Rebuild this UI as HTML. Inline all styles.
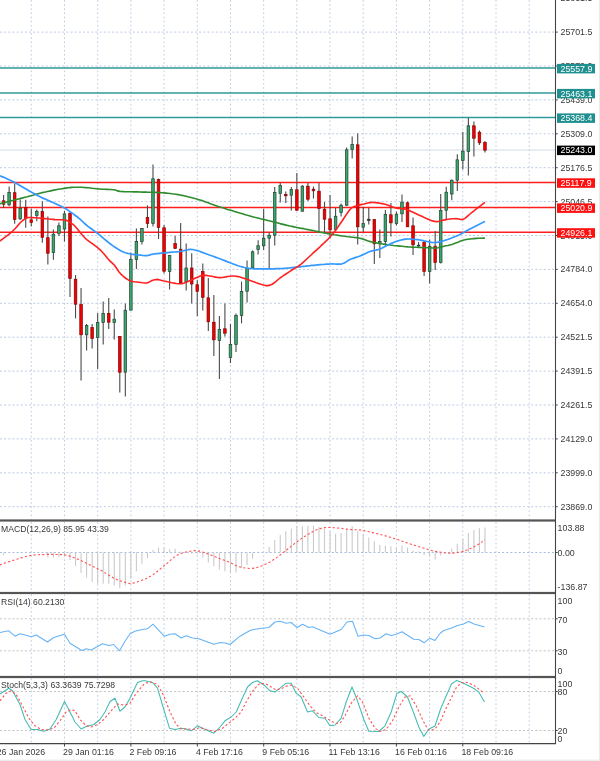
<!DOCTYPE html>
<html><head><meta charset="utf-8"><title>Chart</title>
<style>
html,body{margin:0;padding:0;background:#fff}
body{filter:blur(0.35px);width:600px;height:761px;position:relative;overflow:hidden;font-family:"Liberation Sans",sans-serif;font-size:8.8px;color:#383838;line-height:11px}
div{position:absolute;white-space:nowrap}
.ax{left:560.5px;height:11px}
.ax2{left:557.6px;height:11px}
.bx{left:560.5px;height:11px;line-height:11px;color:#fff}
.lb{left:1px;height:11px;font-size:8.65px}
.dt{top:746.8px;height:11px}
</style></head><body>
<svg width="600" height="761" viewBox="0 0 600 761" style="position:absolute;left:0;top:0">
<line x1="31.3" y1="0.0" x2="31.3" y2="519.5" stroke="#bccae4" stroke-width="1" stroke-dasharray="1.6 2.55"/>
<line x1="64.5" y1="0.0" x2="64.5" y2="519.5" stroke="#bccae4" stroke-width="1" stroke-dasharray="1.6 2.55"/>
<line x1="97.7" y1="0.0" x2="97.7" y2="519.5" stroke="#bccae4" stroke-width="1" stroke-dasharray="1.6 2.55"/>
<line x1="130.9" y1="0.0" x2="130.9" y2="519.5" stroke="#bccae4" stroke-width="1" stroke-dasharray="1.6 2.55"/>
<line x1="164.1" y1="0.0" x2="164.1" y2="519.5" stroke="#bccae4" stroke-width="1" stroke-dasharray="1.6 2.55"/>
<line x1="197.3" y1="0.0" x2="197.3" y2="519.5" stroke="#bccae4" stroke-width="1" stroke-dasharray="1.6 2.55"/>
<line x1="230.5" y1="0.0" x2="230.5" y2="519.5" stroke="#bccae4" stroke-width="1" stroke-dasharray="1.6 2.55"/>
<line x1="263.7" y1="0.0" x2="263.7" y2="519.5" stroke="#bccae4" stroke-width="1" stroke-dasharray="1.6 2.55"/>
<line x1="296.8" y1="0.0" x2="296.8" y2="519.5" stroke="#bccae4" stroke-width="1" stroke-dasharray="1.6 2.55"/>
<line x1="330.0" y1="0.0" x2="330.0" y2="519.5" stroke="#bccae4" stroke-width="1" stroke-dasharray="1.6 2.55"/>
<line x1="363.2" y1="0.0" x2="363.2" y2="519.5" stroke="#bccae4" stroke-width="1" stroke-dasharray="1.6 2.55"/>
<line x1="396.4" y1="0.0" x2="396.4" y2="519.5" stroke="#bccae4" stroke-width="1" stroke-dasharray="1.6 2.55"/>
<line x1="429.6" y1="0.0" x2="429.6" y2="519.5" stroke="#bccae4" stroke-width="1" stroke-dasharray="1.6 2.55"/>
<line x1="462.8" y1="0.0" x2="462.8" y2="519.5" stroke="#bccae4" stroke-width="1" stroke-dasharray="1.6 2.55"/>
<line x1="496.0" y1="0.0" x2="496.0" y2="519.5" stroke="#bccae4" stroke-width="1" stroke-dasharray="1.6 2.55"/>
<line x1="529.2" y1="0.0" x2="529.2" y2="519.5" stroke="#bccae4" stroke-width="1" stroke-dasharray="1.6 2.55"/>
<line x1="31.3" y1="522.0" x2="31.3" y2="592.0" stroke="#bccae4" stroke-width="1" stroke-dasharray="1.6 2.55"/>
<line x1="64.5" y1="522.0" x2="64.5" y2="592.0" stroke="#bccae4" stroke-width="1" stroke-dasharray="1.6 2.55"/>
<line x1="97.7" y1="522.0" x2="97.7" y2="592.0" stroke="#bccae4" stroke-width="1" stroke-dasharray="1.6 2.55"/>
<line x1="130.9" y1="522.0" x2="130.9" y2="592.0" stroke="#bccae4" stroke-width="1" stroke-dasharray="1.6 2.55"/>
<line x1="164.1" y1="522.0" x2="164.1" y2="592.0" stroke="#bccae4" stroke-width="1" stroke-dasharray="1.6 2.55"/>
<line x1="197.3" y1="522.0" x2="197.3" y2="592.0" stroke="#bccae4" stroke-width="1" stroke-dasharray="1.6 2.55"/>
<line x1="230.5" y1="522.0" x2="230.5" y2="592.0" stroke="#bccae4" stroke-width="1" stroke-dasharray="1.6 2.55"/>
<line x1="263.7" y1="522.0" x2="263.7" y2="592.0" stroke="#bccae4" stroke-width="1" stroke-dasharray="1.6 2.55"/>
<line x1="296.8" y1="522.0" x2="296.8" y2="592.0" stroke="#bccae4" stroke-width="1" stroke-dasharray="1.6 2.55"/>
<line x1="330.0" y1="522.0" x2="330.0" y2="592.0" stroke="#bccae4" stroke-width="1" stroke-dasharray="1.6 2.55"/>
<line x1="363.2" y1="522.0" x2="363.2" y2="592.0" stroke="#bccae4" stroke-width="1" stroke-dasharray="1.6 2.55"/>
<line x1="396.4" y1="522.0" x2="396.4" y2="592.0" stroke="#bccae4" stroke-width="1" stroke-dasharray="1.6 2.55"/>
<line x1="429.6" y1="522.0" x2="429.6" y2="592.0" stroke="#bccae4" stroke-width="1" stroke-dasharray="1.6 2.55"/>
<line x1="462.8" y1="522.0" x2="462.8" y2="592.0" stroke="#bccae4" stroke-width="1" stroke-dasharray="1.6 2.55"/>
<line x1="496.0" y1="522.0" x2="496.0" y2="592.0" stroke="#bccae4" stroke-width="1" stroke-dasharray="1.6 2.55"/>
<line x1="529.2" y1="522.0" x2="529.2" y2="592.0" stroke="#bccae4" stroke-width="1" stroke-dasharray="1.6 2.55"/>
<line x1="31.3" y1="594.5" x2="31.3" y2="676.0" stroke="#bccae4" stroke-width="1" stroke-dasharray="1.6 2.55"/>
<line x1="64.5" y1="594.5" x2="64.5" y2="676.0" stroke="#bccae4" stroke-width="1" stroke-dasharray="1.6 2.55"/>
<line x1="97.7" y1="594.5" x2="97.7" y2="676.0" stroke="#bccae4" stroke-width="1" stroke-dasharray="1.6 2.55"/>
<line x1="130.9" y1="594.5" x2="130.9" y2="676.0" stroke="#bccae4" stroke-width="1" stroke-dasharray="1.6 2.55"/>
<line x1="164.1" y1="594.5" x2="164.1" y2="676.0" stroke="#bccae4" stroke-width="1" stroke-dasharray="1.6 2.55"/>
<line x1="197.3" y1="594.5" x2="197.3" y2="676.0" stroke="#bccae4" stroke-width="1" stroke-dasharray="1.6 2.55"/>
<line x1="230.5" y1="594.5" x2="230.5" y2="676.0" stroke="#bccae4" stroke-width="1" stroke-dasharray="1.6 2.55"/>
<line x1="263.7" y1="594.5" x2="263.7" y2="676.0" stroke="#bccae4" stroke-width="1" stroke-dasharray="1.6 2.55"/>
<line x1="296.8" y1="594.5" x2="296.8" y2="676.0" stroke="#bccae4" stroke-width="1" stroke-dasharray="1.6 2.55"/>
<line x1="330.0" y1="594.5" x2="330.0" y2="676.0" stroke="#bccae4" stroke-width="1" stroke-dasharray="1.6 2.55"/>
<line x1="363.2" y1="594.5" x2="363.2" y2="676.0" stroke="#bccae4" stroke-width="1" stroke-dasharray="1.6 2.55"/>
<line x1="396.4" y1="594.5" x2="396.4" y2="676.0" stroke="#bccae4" stroke-width="1" stroke-dasharray="1.6 2.55"/>
<line x1="429.6" y1="594.5" x2="429.6" y2="676.0" stroke="#bccae4" stroke-width="1" stroke-dasharray="1.6 2.55"/>
<line x1="462.8" y1="594.5" x2="462.8" y2="676.0" stroke="#bccae4" stroke-width="1" stroke-dasharray="1.6 2.55"/>
<line x1="496.0" y1="594.5" x2="496.0" y2="676.0" stroke="#bccae4" stroke-width="1" stroke-dasharray="1.6 2.55"/>
<line x1="529.2" y1="594.5" x2="529.2" y2="676.0" stroke="#bccae4" stroke-width="1" stroke-dasharray="1.6 2.55"/>
<line x1="31.3" y1="678.5" x2="31.3" y2="743.5" stroke="#bccae4" stroke-width="1" stroke-dasharray="1.6 2.55"/>
<line x1="64.5" y1="678.5" x2="64.5" y2="743.5" stroke="#bccae4" stroke-width="1" stroke-dasharray="1.6 2.55"/>
<line x1="97.7" y1="678.5" x2="97.7" y2="743.5" stroke="#bccae4" stroke-width="1" stroke-dasharray="1.6 2.55"/>
<line x1="130.9" y1="678.5" x2="130.9" y2="743.5" stroke="#bccae4" stroke-width="1" stroke-dasharray="1.6 2.55"/>
<line x1="164.1" y1="678.5" x2="164.1" y2="743.5" stroke="#bccae4" stroke-width="1" stroke-dasharray="1.6 2.55"/>
<line x1="197.3" y1="678.5" x2="197.3" y2="743.5" stroke="#bccae4" stroke-width="1" stroke-dasharray="1.6 2.55"/>
<line x1="230.5" y1="678.5" x2="230.5" y2="743.5" stroke="#bccae4" stroke-width="1" stroke-dasharray="1.6 2.55"/>
<line x1="263.7" y1="678.5" x2="263.7" y2="743.5" stroke="#bccae4" stroke-width="1" stroke-dasharray="1.6 2.55"/>
<line x1="296.8" y1="678.5" x2="296.8" y2="743.5" stroke="#bccae4" stroke-width="1" stroke-dasharray="1.6 2.55"/>
<line x1="330.0" y1="678.5" x2="330.0" y2="743.5" stroke="#bccae4" stroke-width="1" stroke-dasharray="1.6 2.55"/>
<line x1="363.2" y1="678.5" x2="363.2" y2="743.5" stroke="#bccae4" stroke-width="1" stroke-dasharray="1.6 2.55"/>
<line x1="396.4" y1="678.5" x2="396.4" y2="743.5" stroke="#bccae4" stroke-width="1" stroke-dasharray="1.6 2.55"/>
<line x1="429.6" y1="678.5" x2="429.6" y2="743.5" stroke="#bccae4" stroke-width="1" stroke-dasharray="1.6 2.55"/>
<line x1="462.8" y1="678.5" x2="462.8" y2="743.5" stroke="#bccae4" stroke-width="1" stroke-dasharray="1.6 2.55"/>
<line x1="496.0" y1="678.5" x2="496.0" y2="743.5" stroke="#bccae4" stroke-width="1" stroke-dasharray="1.6 2.55"/>
<line x1="529.2" y1="678.5" x2="529.2" y2="743.5" stroke="#bccae4" stroke-width="1" stroke-dasharray="1.6 2.55"/>
<line x1="0" y1="-1.8" x2="555.5" y2="-1.8" stroke="#bccae4" stroke-width="1" stroke-dasharray="2 2.15"/>
<line x1="0" y1="32.1" x2="555.5" y2="32.1" stroke="#bccae4" stroke-width="1" stroke-dasharray="2 2.15"/>
<line x1="0" y1="66.0" x2="555.5" y2="66.0" stroke="#bccae4" stroke-width="1" stroke-dasharray="2 2.15"/>
<line x1="0" y1="99.9" x2="555.5" y2="99.9" stroke="#bccae4" stroke-width="1" stroke-dasharray="2 2.15"/>
<line x1="0" y1="133.8" x2="555.5" y2="133.8" stroke="#bccae4" stroke-width="1" stroke-dasharray="2 2.15"/>
<line x1="0" y1="167.7" x2="555.5" y2="167.7" stroke="#bccae4" stroke-width="1" stroke-dasharray="2 2.15"/>
<line x1="0" y1="201.6" x2="555.5" y2="201.6" stroke="#bccae4" stroke-width="1" stroke-dasharray="2 2.15"/>
<line x1="0" y1="235.5" x2="555.5" y2="235.5" stroke="#bccae4" stroke-width="1" stroke-dasharray="2 2.15"/>
<line x1="0" y1="269.4" x2="555.5" y2="269.4" stroke="#bccae4" stroke-width="1" stroke-dasharray="2 2.15"/>
<line x1="0" y1="303.3" x2="555.5" y2="303.3" stroke="#bccae4" stroke-width="1" stroke-dasharray="2 2.15"/>
<line x1="0" y1="337.2" x2="555.5" y2="337.2" stroke="#bccae4" stroke-width="1" stroke-dasharray="2 2.15"/>
<line x1="0" y1="371.1" x2="555.5" y2="371.1" stroke="#bccae4" stroke-width="1" stroke-dasharray="2 2.15"/>
<line x1="0" y1="405.0" x2="555.5" y2="405.0" stroke="#bccae4" stroke-width="1" stroke-dasharray="2 2.15"/>
<line x1="0" y1="438.9" x2="555.5" y2="438.9" stroke="#bccae4" stroke-width="1" stroke-dasharray="2 2.15"/>
<line x1="0" y1="472.8" x2="555.5" y2="472.8" stroke="#bccae4" stroke-width="1" stroke-dasharray="2 2.15"/>
<line x1="0" y1="506.7" x2="555.5" y2="506.7" stroke="#bccae4" stroke-width="1" stroke-dasharray="2 2.15"/>
<line x1="0" y1="150" x2="555.5" y2="150" stroke="#d2dae8" stroke-width="1.1"/>
<line x1="0" y1="68.0" x2="555.5" y2="68.0" stroke="#2f9a9a" stroke-width="1.6"/>
<line x1="0" y1="93.0" x2="555.5" y2="93.0" stroke="#2f9a9a" stroke-width="1.6"/>
<line x1="0" y1="117.5" x2="555.5" y2="117.5" stroke="#2f9a9a" stroke-width="1.6"/>
<line x1="0" y1="182.4" x2="555.5" y2="182.4" stroke="#ff1f1f" stroke-width="1.5"/>
<line x1="0" y1="207.5" x2="555.5" y2="207.5" stroke="#ff1f1f" stroke-width="1.5"/>
<line x1="0" y1="232.3" x2="555.5" y2="232.3" stroke="#ff1f1f" stroke-width="1.5"/>
<line x1="3.60" y1="195.0" x2="3.60" y2="208.0" stroke="#4a4a4a" stroke-width="1.1"/>
<rect x="2.30" y="200.8" width="2.6" height="3.4" fill="#f20000" stroke="#860404" stroke-width="0.7"/>
<line x1="9.13" y1="186.5" x2="9.13" y2="206.2" stroke="#4a4a4a" stroke-width="1.1"/>
<rect x="7.83" y="192.5" width="2.6" height="12.3" fill="#3aa56d" stroke="#1f4431" stroke-width="0.7"/>
<line x1="14.67" y1="183.5" x2="14.67" y2="223.7" stroke="#4a4a4a" stroke-width="1.1"/>
<rect x="13.37" y="192.7" width="2.6" height="26.7" fill="#f20000" stroke="#860404" stroke-width="0.7"/>
<line x1="20.20" y1="199.4" x2="20.20" y2="220.0" stroke="#4a4a4a" stroke-width="1.1"/>
<rect x="18.90" y="208.2" width="2.6" height="10.6" fill="#3aa56d" stroke="#1f4431" stroke-width="0.7"/>
<line x1="25.73" y1="199.8" x2="25.73" y2="227.8" stroke="#4a4a4a" stroke-width="1.1"/>
<rect x="24.43" y="207.7" width="2.6" height="10.9" fill="#f20000" stroke="#860404" stroke-width="0.7"/>
<line x1="31.27" y1="208.8" x2="31.27" y2="226.5" stroke="#4a4a4a" stroke-width="1.1"/>
<rect x="29.97" y="219.8" width="2.6" height="2.8" fill="#f20000" stroke="#860404" stroke-width="0.7"/>
<line x1="36.80" y1="209.4" x2="36.80" y2="221.2" stroke="#4a4a4a" stroke-width="1.1"/>
<rect x="35.50" y="211.4" width="2.6" height="4.0" fill="#3aa56d" stroke="#1f4431" stroke-width="0.7"/>
<line x1="42.33" y1="201.3" x2="42.33" y2="242.8" stroke="#4a4a4a" stroke-width="1.1"/>
<rect x="41.03" y="211.5" width="2.6" height="25.8" fill="#f20000" stroke="#860404" stroke-width="0.7"/>
<line x1="47.86" y1="216.5" x2="47.86" y2="264.6" stroke="#4a4a4a" stroke-width="1.1"/>
<rect x="46.56" y="237.7" width="2.6" height="15.5" fill="#f20000" stroke="#860404" stroke-width="0.7"/>
<line x1="53.40" y1="229.4" x2="53.40" y2="259.7" stroke="#4a4a4a" stroke-width="1.1"/>
<rect x="52.10" y="234.2" width="2.6" height="18.4" fill="#3aa56d" stroke="#1f4431" stroke-width="0.7"/>
<line x1="58.93" y1="222.5" x2="58.93" y2="236.0" stroke="#4a4a4a" stroke-width="1.1"/>
<rect x="57.63" y="225.8" width="2.6" height="7.5" fill="#3aa56d" stroke="#1f4431" stroke-width="0.7"/>
<line x1="64.46" y1="210.8" x2="64.46" y2="241.5" stroke="#4a4a4a" stroke-width="1.1"/>
<rect x="63.16" y="213.9" width="2.6" height="15.1" fill="#3aa56d" stroke="#1f4431" stroke-width="0.7"/>
<line x1="70.00" y1="212.4" x2="70.00" y2="297.0" stroke="#4a4a4a" stroke-width="1.1"/>
<rect x="68.70" y="213.2" width="2.6" height="65.2" fill="#f20000" stroke="#860404" stroke-width="0.7"/>
<line x1="75.53" y1="275.0" x2="75.53" y2="318.4" stroke="#4a4a4a" stroke-width="1.1"/>
<rect x="74.23" y="279.2" width="2.6" height="25.0" fill="#f20000" stroke="#860404" stroke-width="0.7"/>
<line x1="81.06" y1="288.0" x2="81.06" y2="380.6" stroke="#4a4a4a" stroke-width="1.1"/>
<rect x="79.76" y="304.6" width="2.6" height="30.2" fill="#f20000" stroke="#860404" stroke-width="0.7"/>
<line x1="86.59" y1="324.0" x2="86.59" y2="350.4" stroke="#4a4a4a" stroke-width="1.1"/>
<rect x="85.30" y="325.6" width="2.6" height="9.2" fill="#3aa56d" stroke="#1f4431" stroke-width="0.7"/>
<line x1="92.13" y1="324.0" x2="92.13" y2="348.4" stroke="#4a4a4a" stroke-width="1.1"/>
<rect x="90.83" y="327.6" width="2.6" height="10.8" fill="#f20000" stroke="#860404" stroke-width="0.7"/>
<line x1="97.66" y1="313.0" x2="97.66" y2="369.0" stroke="#4a4a4a" stroke-width="1.1"/>
<rect x="96.36" y="322.6" width="2.6" height="14.8" fill="#3aa56d" stroke="#1f4431" stroke-width="0.7"/>
<line x1="103.19" y1="301.4" x2="103.19" y2="344.4" stroke="#4a4a4a" stroke-width="1.1"/>
<rect x="101.89" y="313.6" width="2.6" height="8.8" fill="#3aa56d" stroke="#1f4431" stroke-width="0.7"/>
<line x1="108.73" y1="298.0" x2="108.73" y2="329.0" stroke="#4a4a4a" stroke-width="1.1"/>
<rect x="107.43" y="313.6" width="2.6" height="8.6" fill="#f20000" stroke="#860404" stroke-width="0.7"/>
<line x1="114.26" y1="309.6" x2="114.26" y2="339.4" stroke="#4a4a4a" stroke-width="1.1"/>
<rect x="112.96" y="319.2" width="2.6" height="3.2" fill="#3aa56d" stroke="#1f4431" stroke-width="0.7"/>
<line x1="119.79" y1="336.0" x2="119.79" y2="392.6" stroke="#4a4a4a" stroke-width="1.1"/>
<rect x="118.49" y="336.6" width="2.6" height="35.6" fill="#f20000" stroke="#860404" stroke-width="0.7"/>
<line x1="125.33" y1="303.6" x2="125.33" y2="396.6" stroke="#4a4a4a" stroke-width="1.1"/>
<rect x="124.03" y="310.2" width="2.6" height="62.0" fill="#3aa56d" stroke="#1f4431" stroke-width="0.7"/>
<line x1="130.86" y1="252.5" x2="130.86" y2="310.3" stroke="#4a4a4a" stroke-width="1.1"/>
<rect x="129.56" y="259.4" width="2.6" height="50.7" fill="#3aa56d" stroke="#1f4431" stroke-width="0.7"/>
<line x1="136.39" y1="228.4" x2="136.39" y2="269.0" stroke="#4a4a4a" stroke-width="1.1"/>
<rect x="135.09" y="241.6" width="2.6" height="17.8" fill="#3aa56d" stroke="#1f4431" stroke-width="0.7"/>
<line x1="141.93" y1="228.0" x2="141.93" y2="244.4" stroke="#4a4a4a" stroke-width="1.1"/>
<rect x="140.62" y="228.6" width="2.6" height="12.8" fill="#3aa56d" stroke="#1f4431" stroke-width="0.7"/>
<line x1="147.46" y1="205.4" x2="147.46" y2="228.0" stroke="#4a4a4a" stroke-width="1.1"/>
<rect x="146.16" y="217.6" width="2.6" height="5.8" fill="#f20000" stroke="#860404" stroke-width="0.7"/>
<line x1="152.99" y1="164.4" x2="152.99" y2="226.4" stroke="#4a4a4a" stroke-width="1.1"/>
<rect x="151.69" y="178.8" width="2.6" height="44.6" fill="#3aa56d" stroke="#1f4431" stroke-width="0.7"/>
<line x1="158.52" y1="178.6" x2="158.52" y2="239.0" stroke="#4a4a4a" stroke-width="1.1"/>
<rect x="157.22" y="179.6" width="2.6" height="47.8" fill="#f20000" stroke="#860404" stroke-width="0.7"/>
<line x1="164.06" y1="225.0" x2="164.06" y2="273.6" stroke="#4a4a4a" stroke-width="1.1"/>
<rect x="162.76" y="227.8" width="2.6" height="43.4" fill="#f20000" stroke="#860404" stroke-width="0.7"/>
<line x1="169.59" y1="255.0" x2="169.59" y2="289.4" stroke="#4a4a4a" stroke-width="1.1"/>
<rect x="168.29" y="255.6" width="2.6" height="15.8" fill="#3aa56d" stroke="#1f4431" stroke-width="0.7"/>
<line x1="175.12" y1="236.0" x2="175.12" y2="249.0" stroke="#4a4a4a" stroke-width="1.1"/>
<rect x="173.82" y="243.6" width="2.6" height="4.8" fill="#f20000" stroke="#860404" stroke-width="0.7"/>
<line x1="180.66" y1="223.0" x2="180.66" y2="283.6" stroke="#4a4a4a" stroke-width="1.1"/>
<rect x="179.36" y="249.2" width="2.6" height="33.6" fill="#f20000" stroke="#860404" stroke-width="0.7"/>
<line x1="186.19" y1="243.4" x2="186.19" y2="290.4" stroke="#4a4a4a" stroke-width="1.1"/>
<rect x="184.89" y="268.0" width="2.6" height="13.8" fill="#3aa56d" stroke="#1f4431" stroke-width="0.7"/>
<line x1="191.72" y1="253.2" x2="191.72" y2="303.6" stroke="#4a4a4a" stroke-width="1.1"/>
<rect x="190.42" y="268.0" width="2.6" height="16.0" fill="#f20000" stroke="#860404" stroke-width="0.7"/>
<line x1="197.25" y1="280.0" x2="197.25" y2="316.0" stroke="#4a4a4a" stroke-width="1.1"/>
<rect x="195.95" y="284.7" width="2.6" height="6.6" fill="#f20000" stroke="#860404" stroke-width="0.7"/>
<line x1="202.79" y1="263.4" x2="202.79" y2="310.4" stroke="#4a4a4a" stroke-width="1.1"/>
<rect x="201.49" y="271.6" width="2.6" height="25.7" fill="#f20000" stroke="#860404" stroke-width="0.7"/>
<line x1="208.32" y1="278.0" x2="208.32" y2="331.0" stroke="#4a4a4a" stroke-width="1.1"/>
<rect x="207.02" y="297.8" width="2.6" height="24.0" fill="#f20000" stroke="#860404" stroke-width="0.7"/>
<line x1="213.85" y1="295.0" x2="213.85" y2="356.0" stroke="#4a4a4a" stroke-width="1.1"/>
<rect x="212.55" y="322.2" width="2.6" height="17.6" fill="#f20000" stroke="#860404" stroke-width="0.7"/>
<line x1="219.39" y1="316.0" x2="219.39" y2="379.0" stroke="#4a4a4a" stroke-width="1.1"/>
<rect x="218.09" y="329.6" width="2.6" height="10.8" fill="#3aa56d" stroke="#1f4431" stroke-width="0.7"/>
<line x1="224.92" y1="303.6" x2="224.92" y2="336.4" stroke="#4a4a4a" stroke-width="1.1"/>
<rect x="223.62" y="328.8" width="2.6" height="4.4" fill="#f20000" stroke="#860404" stroke-width="0.7"/>
<line x1="230.45" y1="324.0" x2="230.45" y2="363.0" stroke="#4a4a4a" stroke-width="1.1"/>
<rect x="229.15" y="344.6" width="2.6" height="12.8" fill="#3aa56d" stroke="#1f4431" stroke-width="0.7"/>
<line x1="235.99" y1="313.6" x2="235.99" y2="352.0" stroke="#4a4a4a" stroke-width="1.1"/>
<rect x="234.69" y="315.6" width="2.6" height="28.8" fill="#3aa56d" stroke="#1f4431" stroke-width="0.7"/>
<line x1="241.52" y1="281.6" x2="241.52" y2="323.4" stroke="#4a4a4a" stroke-width="1.1"/>
<rect x="240.22" y="291.6" width="2.6" height="23.8" fill="#3aa56d" stroke="#1f4431" stroke-width="0.7"/>
<line x1="247.05" y1="260.6" x2="247.05" y2="302.6" stroke="#4a4a4a" stroke-width="1.1"/>
<rect x="245.75" y="268.2" width="2.6" height="23.0" fill="#3aa56d" stroke="#1f4431" stroke-width="0.7"/>
<line x1="252.59" y1="250.6" x2="252.59" y2="268.0" stroke="#4a4a4a" stroke-width="1.1"/>
<rect x="251.28" y="251.8" width="2.6" height="16.0" fill="#3aa56d" stroke="#1f4431" stroke-width="0.7"/>
<line x1="258.12" y1="240.3" x2="258.12" y2="254.4" stroke="#4a4a4a" stroke-width="1.1"/>
<rect x="256.82" y="245.7" width="2.6" height="3.7" fill="#3aa56d" stroke="#1f4431" stroke-width="0.7"/>
<line x1="263.65" y1="209.0" x2="263.65" y2="250.0" stroke="#4a4a4a" stroke-width="1.1"/>
<rect x="262.35" y="238.2" width="2.6" height="7.6" fill="#3aa56d" stroke="#1f4431" stroke-width="0.7"/>
<line x1="269.18" y1="232.4" x2="269.18" y2="269.0" stroke="#4a4a4a" stroke-width="1.1"/>
<rect x="267.88" y="235.2" width="2.6" height="3.0" fill="#3aa56d" stroke="#1f4431" stroke-width="0.7"/>
<line x1="274.72" y1="187.0" x2="274.72" y2="245.6" stroke="#4a4a4a" stroke-width="1.1"/>
<rect x="273.42" y="192.6" width="2.6" height="42.6" fill="#3aa56d" stroke="#1f4431" stroke-width="0.7"/>
<line x1="280.25" y1="183.0" x2="280.25" y2="202.4" stroke="#4a4a4a" stroke-width="1.1"/>
<rect x="278.95" y="185.6" width="2.6" height="7.8" fill="#3aa56d" stroke="#1f4431" stroke-width="0.7"/>
<line x1="285.78" y1="191.6" x2="285.78" y2="203.0" stroke="#4a4a4a" stroke-width="1.1"/>
<rect x="284.48" y="194.6" width="2.6" height="1.2" fill="#f20000" stroke="#860404" stroke-width="0.7"/>
<line x1="291.32" y1="187.0" x2="291.32" y2="210.4" stroke="#4a4a4a" stroke-width="1.1"/>
<rect x="290.02" y="189.6" width="2.6" height="5.6" fill="#3aa56d" stroke="#1f4431" stroke-width="0.7"/>
<line x1="296.85" y1="173.0" x2="296.85" y2="211.0" stroke="#4a4a4a" stroke-width="1.1"/>
<rect x="295.55" y="189.8" width="2.6" height="20.4" fill="#f20000" stroke="#860404" stroke-width="0.7"/>
<line x1="302.38" y1="185.0" x2="302.38" y2="211.6" stroke="#4a4a4a" stroke-width="1.1"/>
<rect x="301.08" y="186.2" width="2.6" height="25.0" fill="#3aa56d" stroke="#1f4431" stroke-width="0.7"/>
<line x1="307.92" y1="183.0" x2="307.92" y2="201.0" stroke="#4a4a4a" stroke-width="1.1"/>
<rect x="306.62" y="186.2" width="2.6" height="13.0" fill="#f20000" stroke="#860404" stroke-width="0.7"/>
<line x1="313.45" y1="186.6" x2="313.45" y2="198.6" stroke="#4a4a4a" stroke-width="1.1"/>
<rect x="312.15" y="189.2" width="2.6" height="1.6" fill="#f20000" stroke="#860404" stroke-width="0.7"/>
<line x1="318.98" y1="183.0" x2="318.98" y2="232.0" stroke="#4a4a4a" stroke-width="1.1"/>
<rect x="317.68" y="191.2" width="2.6" height="17.2" fill="#f20000" stroke="#860404" stroke-width="0.7"/>
<line x1="324.51" y1="202.0" x2="324.51" y2="232.4" stroke="#4a4a4a" stroke-width="1.1"/>
<rect x="323.21" y="209.2" width="2.6" height="10.0" fill="#f20000" stroke="#860404" stroke-width="0.7"/>
<line x1="330.05" y1="195.0" x2="330.05" y2="238.4" stroke="#4a4a4a" stroke-width="1.1"/>
<rect x="328.75" y="218.8" width="2.6" height="11.0" fill="#f20000" stroke="#860404" stroke-width="0.7"/>
<line x1="335.58" y1="208.0" x2="335.58" y2="231.0" stroke="#4a4a4a" stroke-width="1.1"/>
<rect x="334.28" y="216.2" width="2.6" height="13.2" fill="#3aa56d" stroke="#1f4431" stroke-width="0.7"/>
<line x1="341.11" y1="203.6" x2="341.11" y2="216.6" stroke="#4a4a4a" stroke-width="1.1"/>
<rect x="339.81" y="205.2" width="2.6" height="7.2" fill="#3aa56d" stroke="#1f4431" stroke-width="0.7"/>
<line x1="346.65" y1="147.6" x2="346.65" y2="206.0" stroke="#4a4a4a" stroke-width="1.1"/>
<rect x="345.35" y="149.8" width="2.6" height="55.4" fill="#3aa56d" stroke="#1f4431" stroke-width="0.7"/>
<line x1="352.18" y1="136.4" x2="352.18" y2="158.6" stroke="#4a4a4a" stroke-width="1.1"/>
<rect x="350.88" y="144.6" width="2.6" height="4.8" fill="#3aa56d" stroke="#1f4431" stroke-width="0.7"/>
<line x1="357.71" y1="133.4" x2="357.71" y2="244.4" stroke="#4a4a4a" stroke-width="1.1"/>
<rect x="356.41" y="144.8" width="2.6" height="82.0" fill="#f20000" stroke="#860404" stroke-width="0.7"/>
<line x1="363.25" y1="206.8" x2="363.25" y2="232.0" stroke="#4a4a4a" stroke-width="1.1"/>
<rect x="361.95" y="223.6" width="2.6" height="3.6" fill="#3aa56d" stroke="#1f4431" stroke-width="0.7"/>
<line x1="368.78" y1="208.0" x2="368.78" y2="224.4" stroke="#4a4a4a" stroke-width="1.1"/>
<rect x="367.48" y="219.2" width="2.6" height="1.4" fill="#333" stroke="#333" stroke-width="0.7"/>
<line x1="374.31" y1="219.0" x2="374.31" y2="264.0" stroke="#4a4a4a" stroke-width="1.1"/>
<rect x="373.01" y="219.6" width="2.6" height="24.2" fill="#f20000" stroke="#860404" stroke-width="0.7"/>
<line x1="379.84" y1="229.6" x2="379.84" y2="258.0" stroke="#4a4a4a" stroke-width="1.1"/>
<rect x="378.54" y="241.6" width="2.6" height="2.2" fill="#3aa56d" stroke="#1f4431" stroke-width="0.7"/>
<line x1="385.38" y1="210.0" x2="385.38" y2="245.6" stroke="#4a4a4a" stroke-width="1.1"/>
<rect x="384.08" y="214.6" width="2.6" height="26.8" fill="#3aa56d" stroke="#1f4431" stroke-width="0.7"/>
<line x1="390.91" y1="203.0" x2="390.91" y2="236.4" stroke="#4a4a4a" stroke-width="1.1"/>
<rect x="389.61" y="214.8" width="2.6" height="8.0" fill="#f20000" stroke="#860404" stroke-width="0.7"/>
<line x1="396.44" y1="211.4" x2="396.44" y2="225.6" stroke="#4a4a4a" stroke-width="1.1"/>
<rect x="395.14" y="214.2" width="2.6" height="9.2" fill="#3aa56d" stroke="#1f4431" stroke-width="0.7"/>
<line x1="401.98" y1="194.4" x2="401.98" y2="222.0" stroke="#4a4a4a" stroke-width="1.1"/>
<rect x="400.68" y="202.2" width="2.6" height="11.6" fill="#3aa56d" stroke="#1f4431" stroke-width="0.7"/>
<line x1="407.51" y1="201.6" x2="407.51" y2="227.0" stroke="#4a4a4a" stroke-width="1.1"/>
<rect x="406.21" y="202.8" width="2.6" height="24.0" fill="#f20000" stroke="#860404" stroke-width="0.7"/>
<line x1="413.04" y1="217.4" x2="413.04" y2="255.0" stroke="#4a4a4a" stroke-width="1.1"/>
<rect x="411.74" y="225.8" width="2.6" height="19.0" fill="#f20000" stroke="#860404" stroke-width="0.7"/>
<line x1="418.58" y1="242.0" x2="418.58" y2="247.0" stroke="#4a4a4a" stroke-width="1.1"/>
<rect x="417.28" y="245.2" width="2.6" height="0.8" fill="#333" stroke="#333" stroke-width="0.7"/>
<line x1="424.11" y1="241.0" x2="424.11" y2="276.0" stroke="#4a4a4a" stroke-width="1.1"/>
<rect x="422.81" y="242.2" width="2.6" height="29.2" fill="#f20000" stroke="#860404" stroke-width="0.7"/>
<line x1="429.64" y1="239.6" x2="429.64" y2="283.6" stroke="#4a4a4a" stroke-width="1.1"/>
<rect x="428.34" y="246.2" width="2.6" height="25.2" fill="#3aa56d" stroke="#1f4431" stroke-width="0.7"/>
<line x1="435.17" y1="231.0" x2="435.17" y2="270.0" stroke="#4a4a4a" stroke-width="1.1"/>
<rect x="433.87" y="246.2" width="2.6" height="16.2" fill="#f20000" stroke="#860404" stroke-width="0.7"/>
<line x1="440.71" y1="194.0" x2="440.71" y2="263.6" stroke="#4a4a4a" stroke-width="1.1"/>
<rect x="439.41" y="210.6" width="2.6" height="51.8" fill="#3aa56d" stroke="#1f4431" stroke-width="0.7"/>
<line x1="446.24" y1="186.8" x2="446.24" y2="219.0" stroke="#4a4a4a" stroke-width="1.1"/>
<rect x="444.94" y="192.2" width="2.6" height="18.0" fill="#3aa56d" stroke="#1f4431" stroke-width="0.7"/>
<line x1="451.77" y1="179.6" x2="451.77" y2="200.2" stroke="#4a4a4a" stroke-width="1.1"/>
<rect x="450.47" y="180.2" width="2.6" height="13.8" fill="#3aa56d" stroke="#1f4431" stroke-width="0.7"/>
<line x1="457.31" y1="154.2" x2="457.31" y2="191.0" stroke="#4a4a4a" stroke-width="1.1"/>
<rect x="456.01" y="159.8" width="2.6" height="20.4" fill="#3aa56d" stroke="#1f4431" stroke-width="0.7"/>
<line x1="462.84" y1="132.0" x2="462.84" y2="169.4" stroke="#4a4a4a" stroke-width="1.1"/>
<rect x="461.54" y="151.2" width="2.6" height="9.2" fill="#3aa56d" stroke="#1f4431" stroke-width="0.7"/>
<line x1="468.37" y1="118.0" x2="468.37" y2="175.6" stroke="#4a4a4a" stroke-width="1.1"/>
<rect x="467.07" y="125.8" width="2.6" height="25.6" fill="#3aa56d" stroke="#1f4431" stroke-width="0.7"/>
<line x1="473.91" y1="121.6" x2="473.91" y2="156.6" stroke="#4a4a4a" stroke-width="1.1"/>
<rect x="472.61" y="125.8" width="2.6" height="12.4" fill="#f20000" stroke="#860404" stroke-width="0.7"/>
<line x1="479.44" y1="130.4" x2="479.44" y2="145.0" stroke="#4a4a4a" stroke-width="1.1"/>
<rect x="478.14" y="132.2" width="2.6" height="10.6" fill="#f20000" stroke="#860404" stroke-width="0.7"/>
<line x1="484.97" y1="141.0" x2="484.97" y2="152.4" stroke="#4a4a4a" stroke-width="1.1"/>
<rect x="483.67" y="142.6" width="2.6" height="7.6" fill="#f20000" stroke="#860404" stroke-width="0.7"/>
<path d="M0.0 203.7 L1.2 203.4 L2.9 203.0 L4.8 202.5 L7.0 201.9 L9.3 201.3 L11.7 200.7 L14.0 200.1 L16.3 199.6 L18.3 199.0 L20.0 198.6 L22.8 197.9 L25.1 197.3 L27.2 196.8 L29.1 196.3 L31.0 195.8 L33.1 195.2 L34.9 194.6 L37.0 194.0 L40.0 193.2 L41.6 192.8 L43.3 192.4 L45.3 192.0 L47.3 191.5 L49.4 191.1 L51.6 190.6 L53.8 190.1 L56.0 189.7 L58.0 189.3 L60.0 189.0 L62.1 188.7 L64.1 188.4 L66.0 188.1 L67.9 187.8 L69.8 187.6 L71.8 187.4 L73.8 187.3 L75.8 187.2 L78.0 187.2 L79.9 187.2 L81.9 187.3 L83.9 187.5 L86.0 187.6 L88.2 187.8 L90.3 188.0 L92.4 188.3 L94.5 188.5 L96.4 188.7 L98.3 188.9 L100.0 189.0 L102.5 189.2 L104.8 189.3 L107.0 189.4 L109.0 189.5 L110.8 189.5 L112.5 189.7 L114.0 189.8 L116.1 190.3 L117.3 190.9 L120.0 191.4 L121.4 191.5 L123.1 191.6 L125.0 191.7 L127.0 191.7 L129.1 191.8 L131.3 191.8 L133.6 191.9 L135.8 191.9 L137.9 191.9 L140.0 192.0 L142.0 192.1 L144.0 192.1 L146.0 192.1 L148.0 192.2 L150.0 192.2 L152.0 192.2 L154.0 192.3 L156.0 192.4 L158.0 192.5 L160.0 192.6 L162.0 192.8 L164.0 192.9 L166.0 193.1 L168.0 193.3 L170.0 193.5 L172.0 193.8 L174.0 194.0 L176.0 194.3 L178.0 194.6 L180.0 195.0 L182.0 195.4 L184.0 195.8 L186.0 196.2 L188.0 196.7 L190.0 197.2 L192.0 197.7 L194.0 198.3 L196.0 198.8 L198.0 199.4 L200.0 200.0 L202.0 200.6 L203.8 201.2 L205.7 201.9 L207.5 202.6 L209.4 203.2 L211.3 204.0 L213.3 204.7 L215.4 205.4 L217.6 206.2 L220.0 207.0 L221.7 207.6 L223.6 208.1 L225.5 208.7 L227.5 209.4 L229.6 210.0 L231.8 210.6 L233.9 211.3 L236.1 211.9 L238.2 212.6 L240.4 213.2 L242.5 213.8 L244.5 214.4 L246.4 215.0 L248.3 215.5 L250.0 216.0 L252.4 216.7 L254.6 217.3 L256.7 217.8 L258.7 218.3 L260.6 218.8 L262.5 219.2 L264.3 219.6 L266.2 220.1 L268.0 220.5 L270.0 221.0 L272.0 221.5 L274.0 222.0 L276.0 222.5 L278.0 223.0 L280.0 223.6 L282.0 224.1 L284.0 224.6 L286.0 225.1 L288.0 225.5 L290.0 226.0 L292.0 226.4 L294.0 226.9 L296.0 227.3 L298.0 227.7 L300.0 228.1 L302.0 228.4 L304.0 228.8 L306.0 229.2 L308.0 229.6 L310.0 230.0 L312.0 230.4 L314.0 230.8 L316.0 231.2 L318.0 231.6 L320.0 232.1 L322.0 232.5 L324.0 232.9 L326.0 233.3 L328.0 233.6 L330.0 234.0 L332.0 234.3 L334.2 234.7 L336.3 235.0 L338.5 235.4 L340.6 235.7 L342.7 236.0 L344.7 236.3 L346.6 236.5 L348.4 236.8 L350.0 237.0 L352.6 237.3 L354.6 237.5 L356.3 237.6 L358.0 237.8 L360.0 238.2 L361.8 238.7 L363.6 239.3 L365.5 240.0 L367.5 240.7 L369.6 241.4 L372.0 242.0 L373.7 242.4 L375.6 242.7 L377.5 243.1 L379.5 243.4 L381.5 243.8 L383.6 244.1 L385.8 244.4 L387.9 244.7 L390.0 245.0 L391.9 245.2 L393.9 245.5 L395.9 245.7 L397.9 245.9 L399.9 246.1 L401.9 246.3 L403.9 246.5 L406.0 246.7 L408.0 246.9 L410.0 247.0 L412.1 247.1 L414.2 247.2 L416.4 247.3 L418.7 247.4 L420.9 247.5 L423.0 247.6 L425.0 247.6 L426.9 247.7 L428.6 247.7 L430.0 247.8 L433.0 248.0 L434.4 248.1 L436.0 248.0 L437.9 247.7 L439.9 247.2 L442.0 246.7 L444.0 246.2 L445.9 245.8 L447.8 245.5 L449.7 245.0 L452.0 244.4 L453.8 243.8 L455.8 243.0 L457.9 242.2 L460.0 241.3 L462.1 240.6 L464.0 240.0 L466.1 239.5 L468.1 239.2 L470.0 239.0 L472.0 238.8 L474.0 238.6 L476.3 238.4 L478.9 238.3 L481.3 238.2 L483.5 238.1 L485.0 238.0" fill="none" stroke="#2e8b2e" stroke-width="1.6" stroke-linejoin="round"/>
<path d="M0.0 175.8 L1.4 176.4 L3.2 177.1 L5.4 178.1 L7.9 179.2 L10.7 180.5 L13.8 182.0 L15.5 183.0 L17.4 184.0 L19.5 185.2 L21.6 186.5 L23.8 187.8 L26.1 189.1 L28.4 190.4 L30.7 191.8 L33.0 193.1 L35.3 194.3 L37.5 195.5 L39.6 196.5 L41.7 197.6 L44.0 198.6 L46.2 199.6 L48.5 200.6 L50.7 201.6 L52.9 202.5 L55.0 203.5 L57.1 204.4 L59.0 205.3 L60.9 206.2 L62.5 207.0 L65.4 208.6 L67.9 210.1 L70.0 211.6 L71.9 212.9 L73.5 214.1 L75.0 215.2 L77.8 217.3 L80.0 219.2 L81.8 220.8 L83.7 222.6 L85.8 224.5 L88.0 226.3 L90.2 228.0 L92.6 229.7 L94.9 231.4 L97.3 233.2 L99.7 235.1 L102.1 237.2 L104.4 239.2 L106.7 241.0 L108.8 242.7 L110.8 244.2 L112.7 245.6 L114.7 247.0 L116.7 248.3 L118.7 249.6 L120.7 250.7 L122.7 251.7 L125.4 252.7 L128.0 253.4 L130.7 254.0 L132.7 254.3 L134.7 254.6 L136.7 254.8 L138.7 255.0 L140.8 255.2 L142.9 255.5 L144.9 255.7 L146.7 255.7 L149.3 255.1 L152.0 254.3 L153.5 254.0 L155.1 253.8 L157.1 253.6 L160.0 253.3 L161.6 253.1 L163.4 253.0 L165.4 252.8 L167.6 252.6 L169.9 252.4 L172.1 252.2 L174.4 252.0 L176.4 251.8 L178.4 251.6 L180.0 251.4 L182.7 251.0 L184.8 250.4 L186.7 250.0 L188.3 249.6 L190.0 249.4 L192.6 249.5 L194.8 250.0 L197.3 250.7 L199.4 251.3 L201.6 252.1 L204.0 253.0 L206.7 254.0 L208.7 254.7 L210.8 255.5 L213.1 256.3 L215.4 257.1 L217.7 258.0 L220.0 258.8 L222.3 259.7 L224.7 260.6 L227.1 261.6 L229.4 262.5 L231.5 263.3 L233.3 264.0 L236.0 265.0 L238.0 265.7 L240.0 266.3 L242.2 266.9 L244.5 267.5 L246.7 268.0 L248.9 268.3 L251.1 268.5 L253.3 268.7 L255.0 268.8 L256.8 268.8 L260.0 268.8 L261.5 268.8 L263.2 268.8 L265.1 268.8 L267.2 268.8 L269.4 268.8 L271.6 268.8 L273.9 268.8 L276.0 268.7 L278.1 268.7 L280.0 268.6 L282.2 268.5 L284.3 268.3 L286.4 268.2 L288.4 268.0 L290.3 267.8 L292.2 267.6 L294.1 267.4 L296.0 267.2 L298.1 267.0 L300.0 266.8 L301.8 266.5 L303.7 266.3 L305.6 266.1 L307.7 265.8 L310.0 265.6 L311.8 265.4 L313.7 265.3 L315.8 265.1 L318.0 264.9 L320.1 264.7 L322.3 264.5 L324.4 264.4 L326.4 264.2 L328.3 264.1 L330.0 264.0 L332.5 263.9 L334.7 264.0 L336.8 264.1 L338.6 264.1 L340.3 264.1 L342.0 263.8 L344.2 263.0 L346.1 261.9 L348.0 260.6 L350.0 259.5 L351.9 258.8 L353.9 258.1 L355.9 257.4 L358.0 256.8 L360.0 256.0 L362.0 255.1 L364.0 254.2 L366.0 253.2 L368.0 252.3 L370.0 251.5 L372.0 250.9 L374.0 250.5 L376.0 250.1 L378.0 249.6 L380.0 249.0 L382.0 248.1 L384.0 247.1 L386.0 246.0 L388.0 245.0 L390.0 244.0 L392.0 243.1 L394.1 242.3 L396.1 241.5 L398.1 240.9 L400.0 240.3 L402.0 239.8 L403.9 239.4 L405.8 239.1 L408.0 239.0 L409.7 239.0 L411.6 239.1 L413.6 239.3 L415.7 239.5 L417.8 239.7 L420.0 240.0 L421.9 240.3 L423.9 240.8 L426.0 241.2 L428.0 241.7 L430.1 242.1 L432.1 242.4 L434.0 242.5 L436.2 242.4 L438.3 242.1 L440.4 241.6 L442.4 241.1 L444.3 240.5 L446.0 240.0 L448.3 239.3 L450.4 238.5 L452.2 237.7 L454.0 237.0 L456.0 236.2 L457.8 235.5 L460.0 234.5 L461.7 233.6 L463.5 232.6 L465.4 231.5 L467.6 230.3 L470.0 229.0 L472.0 228.0 L474.4 226.8 L476.9 225.5 L479.4 224.2 L481.7 223.1 L483.6 222.1 L485.0 221.4" fill="none" stroke="#3399ff" stroke-width="1.7" stroke-linejoin="round"/>
<path d="M0.0 241.0 L1.4 239.9 L3.4 238.4 L5.8 236.7 L8.2 234.8 L10.6 232.9 L12.5 231.3 L15.5 228.3 L17.9 225.4 L20.0 223.0 L22.7 220.5 L25.0 218.8 L26.6 217.8 L29.0 217.5 L30.5 217.5 L32.3 217.6 L34.4 217.7 L36.6 217.8 L38.8 218.0 L41.0 218.2 L42.9 218.4 L44.9 218.6 L47.0 218.8 L49.1 219.0 L51.2 219.2 L53.1 219.4 L55.0 219.6 L57.5 219.7 L59.9 219.8 L62.1 219.8 L64.2 219.9 L66.0 220.2 L68.5 221.2 L70.4 222.5 L72.0 223.7 L73.6 224.8 L75.0 226.3 L77.4 229.1 L80.0 232.3 L82.5 235.3 L85.3 238.3 L87.1 239.8 L89.1 241.3 L91.2 242.8 L93.3 244.3 L95.3 245.9 L97.3 247.4 L99.3 249.1 L101.3 251.0 L103.4 253.2 L105.5 255.7 L107.5 258.2 L109.3 260.3 L112.3 263.1 L114.7 265.5 L116.7 268.5 L118.7 271.5 L121.2 274.4 L124.0 277.0 L126.1 278.5 L128.3 279.9 L130.7 281.0 L132.6 281.5 L134.6 281.8 L136.7 282.0 L138.7 282.2 L140.8 282.5 L142.9 282.8 L144.9 283.0 L146.7 283.0 L149.5 281.9 L152.0 280.5 L154.6 279.7 L157.3 279.4 L159.1 279.7 L161.0 280.3 L164.0 281.0 L165.6 281.3 L167.5 281.8 L169.6 282.2 L171.8 282.7 L174.0 283.1 L176.2 283.5 L178.2 283.7 L180.0 283.8 L182.4 283.6 L184.3 283.0 L186.1 282.2 L188.0 281.4 L190.0 280.5 L191.9 279.7 L194.0 278.8 L196.1 277.8 L198.2 276.9 L200.2 276.1 L202.0 275.6 L204.2 275.3 L206.1 275.4 L208.0 275.7 L210.0 276.0 L211.8 276.3 L213.7 276.7 L215.6 277.1 L217.7 277.5 L220.0 277.6 L221.8 277.5 L223.8 277.2 L225.8 276.9 L227.9 276.5 L230.0 276.2 L232.1 276.0 L234.0 276.0 L236.1 276.2 L238.1 276.6 L240.0 277.1 L241.9 277.7 L243.9 278.3 L246.0 279.0 L247.9 279.6 L250.0 280.4 L252.2 281.2 L254.3 282.0 L256.4 282.8 L258.3 283.4 L260.0 284.0 L262.5 284.7 L264.5 285.3 L266.3 285.6 L268.0 285.6 L270.1 285.1 L272.1 284.2 L274.0 283.0 L275.8 281.6 L277.6 280.0 L280.0 278.0 L281.7 276.8 L283.7 275.4 L285.9 274.0 L288.1 272.6 L290.2 271.2 L292.0 270.0 L294.2 268.6 L296.1 267.6 L298.0 266.5 L300.0 265.0 L301.7 263.6 L303.4 262.2 L305.2 260.5 L307.3 258.5 L310.0 256.0 L311.6 254.5 L313.5 252.7 L315.6 250.8 L317.8 248.8 L320.0 246.8 L322.2 244.6 L324.4 242.6 L326.5 240.6 L328.4 238.7 L330.0 237.0 L332.6 234.0 L334.7 231.4 L336.5 229.0 L338.2 226.6 L340.0 224.0 L342.1 221.0 L344.2 217.8 L346.3 214.6 L348.3 211.7 L350.0 209.5 L352.2 207.5 L354.0 206.6 L356.0 206.0 L357.9 205.4 L359.9 204.9 L362.0 204.4 L364.0 204.0 L365.9 203.5 L367.8 203.0 L369.7 202.6 L372.0 202.4 L373.8 202.5 L375.7 202.6 L377.8 202.9 L379.9 203.2 L382.0 203.6 L384.0 204.0 L386.0 204.6 L388.1 205.3 L390.1 206.0 L392.1 206.8 L394.1 207.5 L396.0 208.0 L398.1 208.4 L400.0 208.5 L401.8 208.6 L403.8 208.9 L406.0 209.4 L407.8 210.0 L409.8 210.8 L411.9 211.8 L414.1 212.8 L416.2 213.7 L418.2 214.7 L420.0 215.5 L422.3 216.5 L424.4 217.6 L426.4 218.5 L428.3 219.3 L430.0 220.0 L432.5 220.9 L434.6 221.4 L437.0 221.6 L439.1 221.3 L441.3 220.8 L443.6 220.1 L446.0 219.6 L448.0 219.3 L450.1 219.0 L452.2 218.8 L454.2 218.7 L456.0 218.6 L458.6 219.0 L460.8 219.5 L463.0 219.4 L465.3 218.1 L467.6 216.1 L470.0 214.0 L472.0 212.4 L474.0 210.8 L476.0 209.1 L478.0 207.6 L480.7 205.6 L483.2 203.7 L485.0 202.4" fill="none" stroke="#ff2020" stroke-width="1.6" stroke-linejoin="round"/>
<line x1="0" y1="552.5" x2="555.5" y2="552.5" stroke="#a9bbdc" stroke-width="1" stroke-dasharray="2 2.15"/>
<line x1="3.60" y1="552.5" x2="3.60" y2="555.0" stroke="#cacaca" stroke-width="1.1"/>
<line x1="47.86" y1="552.5" x2="47.86" y2="557.5" stroke="#cacaca" stroke-width="1.1"/>
<line x1="53.40" y1="552.5" x2="53.40" y2="557.5" stroke="#cacaca" stroke-width="1.1"/>
<line x1="58.93" y1="552.5" x2="58.93" y2="557.0" stroke="#cacaca" stroke-width="1.1"/>
<line x1="64.46" y1="552.5" x2="64.46" y2="555.0" stroke="#cacaca" stroke-width="1.1"/>
<line x1="70.00" y1="552.5" x2="70.00" y2="560.0" stroke="#cacaca" stroke-width="1.1"/>
<line x1="75.53" y1="552.5" x2="75.53" y2="565.8" stroke="#cacaca" stroke-width="1.1"/>
<line x1="81.06" y1="552.5" x2="81.06" y2="573.0" stroke="#cacaca" stroke-width="1.1"/>
<line x1="86.59" y1="552.5" x2="86.59" y2="577.5" stroke="#cacaca" stroke-width="1.1"/>
<line x1="92.13" y1="552.5" x2="92.13" y2="582.0" stroke="#cacaca" stroke-width="1.1"/>
<line x1="97.66" y1="552.5" x2="97.66" y2="583.8" stroke="#cacaca" stroke-width="1.1"/>
<line x1="103.19" y1="552.5" x2="103.19" y2="583.8" stroke="#cacaca" stroke-width="1.1"/>
<line x1="108.73" y1="552.5" x2="108.73" y2="583.8" stroke="#cacaca" stroke-width="1.1"/>
<line x1="114.26" y1="552.5" x2="114.26" y2="585.5" stroke="#cacaca" stroke-width="1.1"/>
<line x1="119.79" y1="552.5" x2="119.79" y2="588.0" stroke="#cacaca" stroke-width="1.1"/>
<line x1="125.33" y1="552.5" x2="125.33" y2="585.5" stroke="#cacaca" stroke-width="1.1"/>
<line x1="130.86" y1="552.5" x2="130.86" y2="578.8" stroke="#cacaca" stroke-width="1.1"/>
<line x1="136.39" y1="552.5" x2="136.39" y2="571.2" stroke="#cacaca" stroke-width="1.1"/>
<line x1="141.93" y1="552.5" x2="141.93" y2="563.8" stroke="#cacaca" stroke-width="1.1"/>
<line x1="147.46" y1="552.5" x2="147.46" y2="558.2" stroke="#cacaca" stroke-width="1.1"/>
<line x1="152.99" y1="552.5" x2="152.99" y2="550.0" stroke="#cacaca" stroke-width="1.1"/>
<line x1="158.52" y1="552.5" x2="158.52" y2="547.5" stroke="#cacaca" stroke-width="1.1"/>
<line x1="164.06" y1="552.5" x2="164.06" y2="548.0" stroke="#cacaca" stroke-width="1.1"/>
<line x1="169.59" y1="552.5" x2="169.59" y2="549.2" stroke="#cacaca" stroke-width="1.1"/>
<line x1="175.12" y1="552.5" x2="175.12" y2="548.8" stroke="#cacaca" stroke-width="1.1"/>
<line x1="180.66" y1="552.5" x2="180.66" y2="551.5" stroke="#cacaca" stroke-width="1.1"/>
<line x1="191.72" y1="552.5" x2="191.72" y2="553.8" stroke="#cacaca" stroke-width="1.1"/>
<line x1="197.25" y1="552.5" x2="197.25" y2="554.0" stroke="#cacaca" stroke-width="1.1"/>
<line x1="202.79" y1="552.5" x2="202.79" y2="557.5" stroke="#cacaca" stroke-width="1.1"/>
<line x1="208.32" y1="552.5" x2="208.32" y2="562.5" stroke="#cacaca" stroke-width="1.1"/>
<line x1="213.85" y1="552.5" x2="213.85" y2="566.2" stroke="#cacaca" stroke-width="1.1"/>
<line x1="219.39" y1="552.5" x2="219.39" y2="569.5" stroke="#cacaca" stroke-width="1.1"/>
<line x1="224.92" y1="552.5" x2="224.92" y2="571.2" stroke="#cacaca" stroke-width="1.1"/>
<line x1="230.45" y1="552.5" x2="230.45" y2="573.0" stroke="#cacaca" stroke-width="1.1"/>
<line x1="235.99" y1="552.5" x2="235.99" y2="572.6" stroke="#cacaca" stroke-width="1.1"/>
<line x1="241.52" y1="552.5" x2="241.52" y2="568.0" stroke="#cacaca" stroke-width="1.1"/>
<line x1="247.05" y1="552.5" x2="247.05" y2="565.0" stroke="#cacaca" stroke-width="1.1"/>
<line x1="252.59" y1="552.5" x2="252.59" y2="558.8" stroke="#cacaca" stroke-width="1.1"/>
<line x1="269.18" y1="552.5" x2="269.18" y2="547.0" stroke="#cacaca" stroke-width="1.1"/>
<line x1="274.72" y1="552.5" x2="274.72" y2="540.0" stroke="#cacaca" stroke-width="1.1"/>
<line x1="280.25" y1="552.5" x2="280.25" y2="535.0" stroke="#cacaca" stroke-width="1.1"/>
<line x1="285.78" y1="552.5" x2="285.78" y2="531.2" stroke="#cacaca" stroke-width="1.1"/>
<line x1="291.32" y1="552.5" x2="291.32" y2="528.8" stroke="#cacaca" stroke-width="1.1"/>
<line x1="296.85" y1="552.5" x2="296.85" y2="526.2" stroke="#cacaca" stroke-width="1.1"/>
<line x1="302.38" y1="552.5" x2="302.38" y2="526.2" stroke="#cacaca" stroke-width="1.1"/>
<line x1="307.92" y1="552.5" x2="307.92" y2="525.8" stroke="#cacaca" stroke-width="1.1"/>
<line x1="313.45" y1="552.5" x2="313.45" y2="525.5" stroke="#cacaca" stroke-width="1.1"/>
<line x1="318.98" y1="552.5" x2="318.98" y2="527.0" stroke="#cacaca" stroke-width="1.1"/>
<line x1="324.51" y1="552.5" x2="324.51" y2="528.8" stroke="#cacaca" stroke-width="1.1"/>
<line x1="330.05" y1="552.5" x2="330.05" y2="531.2" stroke="#cacaca" stroke-width="1.1"/>
<line x1="335.58" y1="552.5" x2="335.58" y2="533.8" stroke="#cacaca" stroke-width="1.1"/>
<line x1="341.11" y1="552.5" x2="341.11" y2="533.0" stroke="#cacaca" stroke-width="1.1"/>
<line x1="346.65" y1="552.5" x2="346.65" y2="528.8" stroke="#cacaca" stroke-width="1.1"/>
<line x1="352.18" y1="552.5" x2="352.18" y2="526.2" stroke="#cacaca" stroke-width="1.1"/>
<line x1="357.71" y1="552.5" x2="357.71" y2="531.2" stroke="#cacaca" stroke-width="1.1"/>
<line x1="363.25" y1="552.5" x2="363.25" y2="533.8" stroke="#cacaca" stroke-width="1.1"/>
<line x1="368.78" y1="552.5" x2="368.78" y2="537.5" stroke="#cacaca" stroke-width="1.1"/>
<line x1="374.31" y1="552.5" x2="374.31" y2="541.2" stroke="#cacaca" stroke-width="1.1"/>
<line x1="379.84" y1="552.5" x2="379.84" y2="545.0" stroke="#cacaca" stroke-width="1.1"/>
<line x1="385.38" y1="552.5" x2="385.38" y2="545.8" stroke="#cacaca" stroke-width="1.1"/>
<line x1="390.91" y1="552.5" x2="390.91" y2="546.2" stroke="#cacaca" stroke-width="1.1"/>
<line x1="396.44" y1="552.5" x2="396.44" y2="547.0" stroke="#cacaca" stroke-width="1.1"/>
<line x1="401.98" y1="552.5" x2="401.98" y2="545.5" stroke="#cacaca" stroke-width="1.1"/>
<line x1="407.51" y1="552.5" x2="407.51" y2="547.5" stroke="#cacaca" stroke-width="1.1"/>
<line x1="413.04" y1="552.5" x2="413.04" y2="550.8" stroke="#cacaca" stroke-width="1.1"/>
<line x1="418.58" y1="552.5" x2="418.58" y2="551.5" stroke="#cacaca" stroke-width="1.1"/>
<line x1="424.11" y1="552.5" x2="424.11" y2="555.0" stroke="#cacaca" stroke-width="1.1"/>
<line x1="429.64" y1="552.5" x2="429.64" y2="556.2" stroke="#cacaca" stroke-width="1.1"/>
<line x1="435.17" y1="552.5" x2="435.17" y2="559.5" stroke="#cacaca" stroke-width="1.1"/>
<line x1="440.71" y1="552.5" x2="440.71" y2="555.5" stroke="#cacaca" stroke-width="1.1"/>
<line x1="451.77" y1="552.5" x2="451.77" y2="548.8" stroke="#cacaca" stroke-width="1.1"/>
<line x1="457.31" y1="552.5" x2="457.31" y2="543.8" stroke="#cacaca" stroke-width="1.1"/>
<line x1="462.84" y1="552.5" x2="462.84" y2="538.8" stroke="#cacaca" stroke-width="1.1"/>
<line x1="468.37" y1="552.5" x2="468.37" y2="533.0" stroke="#cacaca" stroke-width="1.1"/>
<line x1="473.91" y1="552.5" x2="473.91" y2="530.0" stroke="#cacaca" stroke-width="1.1"/>
<line x1="479.44" y1="552.5" x2="479.44" y2="528.2" stroke="#cacaca" stroke-width="1.1"/>
<line x1="484.97" y1="552.5" x2="484.97" y2="527.5" stroke="#cacaca" stroke-width="1.1"/>
<path d="M0.0 565.0 L-0.1 564.9 L1.7 564.2 L3.1 563.7 L5.0 563.0 L7.2 562.3 L9.6 561.5 L12.0 560.7 L14.4 559.9 L16.7 559.2 L18.9 558.6 L21.0 557.9 L23.2 557.3 L25.4 556.7 L27.5 556.2 L29.6 555.7 L31.7 555.3 L34.1 555.0 L36.4 554.8 L38.7 554.7 L40.9 554.6 L43.0 554.6 L45.0 554.5 L47.2 554.4 L49.2 554.4 L51.2 554.4 L53.1 554.5 L55.0 554.5 L57.0 554.5 L59.0 554.5 L61.0 554.6 L63.0 554.7 L65.0 555.0 L67.0 555.4 L68.9 555.9 L70.9 556.5 L72.9 557.2 L75.0 558.0 L77.2 558.9 L79.5 559.9 L81.8 561.0 L84.2 562.1 L86.7 563.3 L88.9 564.4 L91.4 565.6 L93.9 566.9 L96.3 568.1 L98.4 569.2 L100.0 570.0 L101.3 570.6 L102.5 571.2 L104.0 572.2 L105.9 573.4 L108.1 574.8 L110.5 576.3 L112.8 577.6 L115.0 578.8 L117.2 579.7 L119.4 580.6 L121.7 581.3 L123.9 582.0 L125.9 582.6 L127.5 583.0 L130.2 583.6 L132.5 583.2 L134.2 582.9 L136.1 582.3 L138.3 581.6 L140.4 580.8 L142.5 580.0 L144.5 579.2 L146.4 578.4 L148.3 577.4 L150.3 576.3 L152.5 575.0 L154.4 573.6 L156.5 572.0 L158.6 570.3 L160.7 568.5 L162.9 566.7 L165.0 565.0 L167.1 563.3 L169.2 561.4 L171.2 559.6 L173.3 557.9 L175.4 556.3 L177.5 555.0 L179.6 554.0 L181.9 553.2 L184.1 552.5 L186.2 552.0 L188.2 551.6 L190.0 551.2 L192.8 550.7 L195.0 550.5 L197.5 550.8 L199.3 551.1 L201.2 551.6 L203.2 552.2 L205.3 553.0 L207.5 553.8 L209.5 554.5 L211.6 555.3 L213.8 556.2 L215.9 557.1 L218.0 558.0 L220.0 558.8 L222.2 559.6 L224.3 560.3 L226.3 561.1 L228.2 561.8 L230.0 562.5 L232.6 563.8 L234.9 565.1 L237.5 566.2 L239.4 566.8 L241.4 567.3 L243.6 567.7 L245.6 568.0 L247.5 568.2 L250.1 568.5 L252.4 568.4 L255.0 568.0 L256.8 567.5 L258.8 566.9 L260.9 566.2 L263.0 565.4 L265.0 564.5 L267.0 563.5 L269.0 562.4 L271.0 561.3 L273.0 560.0 L275.0 558.8 L277.0 557.4 L279.0 555.9 L281.0 554.4 L283.0 552.8 L285.0 551.2 L287.0 549.7 L289.0 548.0 L291.0 546.4 L293.0 544.8 L295.0 543.2 L297.0 541.8 L299.0 540.3 L301.0 538.9 L303.0 537.6 L305.0 536.2 L307.0 535.0 L309.1 533.7 L311.2 532.5 L313.2 531.4 L315.0 530.5 L317.7 529.4 L320.1 528.6 L322.5 528.0 L324.9 527.6 L327.3 527.5 L330.0 527.5 L331.8 527.6 L333.8 527.7 L335.9 527.9 L338.0 528.0 L340.0 528.2 L342.0 528.5 L344.0 528.8 L346.0 529.0 L348.0 529.3 L350.0 529.5 L352.0 529.6 L354.0 529.7 L356.0 529.7 L358.0 529.8 L360.0 530.0 L362.0 530.3 L363.9 530.6 L365.8 531.1 L367.8 531.5 L370.0 532.0 L371.9 532.4 L374.0 532.9 L376.1 533.4 L378.2 533.9 L380.4 534.4 L382.5 535.0 L384.6 535.6 L386.7 536.2 L388.8 536.8 L390.8 537.4 L392.9 538.1 L395.0 538.8 L397.1 539.4 L399.2 540.1 L401.2 540.9 L403.3 541.6 L405.4 542.3 L407.5 543.0 L409.6 543.7 L411.7 544.4 L413.8 545.0 L415.8 545.7 L417.9 546.4 L420.0 547.0 L422.1 547.7 L424.3 548.3 L426.4 549.0 L428.5 549.7 L430.6 550.2 L432.5 550.8 L434.7 551.2 L436.8 551.6 L438.8 552.0 L440.7 552.2 L442.5 552.5 L445.2 552.9 L447.6 553.1 L450.0 553.2 L452.5 553.1 L455.0 552.9 L457.5 552.5 L459.9 552.1 L462.3 551.6 L465.0 550.8 L466.8 550.1 L468.8 549.2 L470.9 548.3 L473.0 547.3 L475.0 546.2 L477.2 545.0 L479.5 543.6 L481.7 542.1 L483.6 540.9 L485.0 540.0" fill="none" stroke="#ff5050" stroke-width="1.1" stroke-dasharray="2.2 2.2"/>
<line x1="0" y1="618.8" x2="555.5" y2="618.8" stroke="#c2c2c2" stroke-width="1" stroke-dasharray="2 2.15"/>
<line x1="0" y1="650.8" x2="555.5" y2="650.8" stroke="#c2c2c2" stroke-width="1" stroke-dasharray="2 2.15"/>
<path d="M0.0 632.5 L8.8 630.8 L15.0 636.2 L20.0 633.8 L25.0 635.0 L31.2 636.8 L36.2 635.0 L47.5 642.0 L53.8 637.5 L64.5 634.2 L70.0 643.2 L81.8 650.5 L86.2 648.8 L91.2 650.0 L102.5 643.8 L108.8 645.5 L113.8 644.5 L119.5 650.8 L125.0 641.2 L130.0 633.8 L135.0 631.2 L140.0 630.0 L147.5 628.8 L153.0 624.2 L164.2 636.2 L170.0 634.2 L175.0 633.8 L181.2 638.0 L186.2 635.8 L192.5 638.0 L198.8 638.8 L213.8 644.2 L220.0 642.5 L225.0 643.0 L230.0 644.5 L240.0 636.2 L250.0 630.5 L255.0 629.2 L262.5 628.2 L268.8 627.5 L275.0 622.0 L280.0 621.2 L286.2 623.2 L291.2 622.5 L297.0 627.5 L302.5 624.2 L308.8 627.5 L312.5 626.8 L330.0 634.2 L341.2 629.5 L347.0 622.0 L352.5 621.2 L358.0 636.2 L363.8 635.0 L368.8 635.5 L375.0 638.8 L380.0 638.0 L386.2 633.8 L391.2 635.5 L396.2 634.2 L402.0 631.8 L413.8 639.2 L418.8 639.5 L424.2 642.7 L429.6 638.3 L435.0 640.4 L440.4 633.0 L444.0 630.5 L451.5 628.0 L457.5 625.4 L463.5 624.0 L468.6 621.5 L474.0 624.0 L484.5 627.0" fill="none" stroke="#66b3f6" stroke-width="1.05" stroke-linejoin="round"/>
<line x1="0" y1="691.5" x2="555.5" y2="691.5" stroke="#c2c2c2" stroke-width="1" stroke-dasharray="2 2.15"/>
<line x1="0" y1="730.5" x2="555.5" y2="730.5" stroke="#c2c2c2" stroke-width="1" stroke-dasharray="2 2.15"/>
<path d="M0.0 694.0 L8.8 688.2 L12.5 690.8 L20.0 704.5 L25.0 719.5 L31.2 729.5 L37.5 729.5 L43.8 731.2 L50.0 729.0 L56.2 719.5 L64.5 701.5 L70.0 712.0 L75.0 722.0 L81.2 729.0 L86.2 726.5 L93.8 724.5 L100.0 719.5 L105.0 712.0 L110.0 701.5 L115.0 698.2 L120.0 711.2 L125.0 707.0 L130.0 698.2 L137.5 682.5 L142.5 680.8 L145.0 680.8 L152.5 682.5 L157.5 688.2 L163.8 709.5 L169.5 728.2 L175.0 729.5 L181.2 728.2 L186.2 729.0 L191.2 730.8 L197.5 725.8 L202.5 728.2 L213.8 733.2 L220.0 727.0 L225.0 720.8 L231.2 717.0 L236.2 712.0 L241.2 700.8 L247.5 687.0 L252.5 682.5 L257.5 680.8 L265.0 685.8 L270.0 690.8 L275.0 692.0 L280.0 688.2 L286.2 683.2 L291.2 683.2 L296.2 693.2 L301.2 697.0 L307.5 712.0 L312.5 710.8 L318.8 717.5 L325.0 718.2 L330.0 725.8 L335.0 725.0 L341.2 718.2 L346.2 702.0 L352.0 687.0 L357.5 700.8 L363.8 719.5 L368.8 731.2 L378.8 731.5 L385.0 725.8 L391.2 712.0 L397.0 693.2 L401.2 691.5 L407.5 697.0 L413.8 713.2 L418.8 727.0 L423.8 736.4 L429.0 729.0 L435.0 726.0 L440.4 709.5 L445.5 697.5 L451.5 684.0 L456.6 680.4 L462.0 682.5 L468.0 685.5 L474.0 688.5 L479.0 692.4 L484.5 702.0" fill="none" stroke="#44bbb2" stroke-width="1.05" stroke-linejoin="round"/>
<path d="M0.0 700.8 L6.2 693.2 L11.2 690.8 L16.2 694.5 L22.5 705.8 L28.8 718.2 L35.0 725.8 L41.2 729.5 L47.5 730.0 L53.8 728.2 L60.0 720.8 L66.2 712.0 L71.2 709.5 L75.0 710.8 L80.0 719.5 L86.2 725.8 L91.2 727.0 L97.5 724.5 L103.8 719.5 L110.0 712.0 L117.5 704.0 L125.0 705.2 L130.0 703.2 L136.2 693.2 L142.5 685.8 L145.0 683.2 L151.2 682.0 L157.5 684.5 L163.8 695.8 L170.0 712.0 L176.2 724.5 L181.2 729.0 L187.5 729.0 L193.8 729.5 L200.0 727.5 L206.2 729.5 L215.0 731.5 L222.5 728.2 L228.8 723.2 L235.0 718.2 L241.2 712.0 L247.5 699.5 L253.8 689.5 L260.0 683.2 L266.2 684.0 L271.2 687.0 L276.2 690.0 L282.5 688.2 L285.0 686.5 L291.2 685.0 L297.5 688.2 L303.8 697.0 L310.0 705.8 L316.2 712.5 L322.5 715.8 L328.8 719.5 L335.0 723.2 L340.0 723.2 L345.0 715.8 L351.2 703.2 L357.5 695.8 L362.5 702.0 L368.8 718.2 L375.0 728.2 L380.0 731.5 L386.2 729.5 L392.5 720.8 L398.8 707.0 L405.0 697.0 L410.0 695.8 L416.2 705.8 L422.5 719.5 L427.5 729.0 L430.0 730.6 L435.0 729.0 L440.4 721.5 L445.5 709.5 L451.5 697.5 L456.6 687.0 L462.0 682.5 L468.0 682.5 L474.0 685.5 L480.0 690.0 L483.0 692.4" fill="none" stroke="#ff5050" stroke-width="1.1" stroke-dasharray="2.2 2.2" stroke-linejoin="round"/>
<rect x="0" y="519.4" width="555.5" height="2.2" fill="#555"/>
<rect x="0" y="591.9" width="555.5" height="2.2" fill="#555"/>
<rect x="0" y="675.9" width="555.5" height="2.2" fill="#555"/>
<line x1="555.5" y1="0" x2="555.5" y2="744" stroke="#444" stroke-width="1.1"/>
<line x1="0" y1="743.6" x2="556.0" y2="743.6" stroke="#444" stroke-width="1.1"/>
<line x1="555.5" y1="-1.8" x2="557.7" y2="-1.8" stroke="#444" stroke-width="1"/>
<line x1="555.5" y1="32.1" x2="557.7" y2="32.1" stroke="#444" stroke-width="1"/>
<line x1="555.5" y1="66.0" x2="557.7" y2="66.0" stroke="#444" stroke-width="1"/>
<line x1="555.5" y1="99.9" x2="557.7" y2="99.9" stroke="#444" stroke-width="1"/>
<line x1="555.5" y1="133.8" x2="557.7" y2="133.8" stroke="#444" stroke-width="1"/>
<line x1="555.5" y1="167.7" x2="557.7" y2="167.7" stroke="#444" stroke-width="1"/>
<line x1="555.5" y1="201.6" x2="557.7" y2="201.6" stroke="#444" stroke-width="1"/>
<line x1="555.5" y1="235.5" x2="557.7" y2="235.5" stroke="#444" stroke-width="1"/>
<line x1="555.5" y1="269.4" x2="557.7" y2="269.4" stroke="#444" stroke-width="1"/>
<line x1="555.5" y1="303.3" x2="557.7" y2="303.3" stroke="#444" stroke-width="1"/>
<line x1="555.5" y1="337.2" x2="557.7" y2="337.2" stroke="#444" stroke-width="1"/>
<line x1="555.5" y1="371.1" x2="557.7" y2="371.1" stroke="#444" stroke-width="1"/>
<line x1="555.5" y1="405.0" x2="557.7" y2="405.0" stroke="#444" stroke-width="1"/>
<line x1="555.5" y1="438.9" x2="557.7" y2="438.9" stroke="#444" stroke-width="1"/>
<line x1="555.5" y1="472.8" x2="557.7" y2="472.8" stroke="#444" stroke-width="1"/>
<line x1="555.5" y1="506.7" x2="557.7" y2="506.7" stroke="#444" stroke-width="1"/>
<line x1="555.5" y1="552.5" x2="557.7" y2="552.5" stroke="#444" stroke-width="1"/>
<line x1="555.5" y1="618.8" x2="557.7" y2="618.8" stroke="#444" stroke-width="1"/>
<line x1="555.5" y1="650.8" x2="557.7" y2="650.8" stroke="#444" stroke-width="1"/>
<line x1="555.5" y1="691.5" x2="557.7" y2="691.5" stroke="#444" stroke-width="1"/>
<line x1="555.5" y1="730.5" x2="557.7" y2="730.5" stroke="#444" stroke-width="1"/>
<line x1="-1.9" y1="743" x2="-1.9" y2="746.5" stroke="#444" stroke-width="1"/>
<line x1="64.5" y1="743" x2="64.5" y2="746.5" stroke="#444" stroke-width="1"/>
<line x1="130.9" y1="743" x2="130.9" y2="746.5" stroke="#444" stroke-width="1"/>
<line x1="197.3" y1="743" x2="197.3" y2="746.5" stroke="#444" stroke-width="1"/>
<line x1="263.7" y1="743" x2="263.7" y2="746.5" stroke="#444" stroke-width="1"/>
<line x1="330.0" y1="743" x2="330.0" y2="746.5" stroke="#444" stroke-width="1"/>
<line x1="396.4" y1="743" x2="396.4" y2="746.5" stroke="#444" stroke-width="1"/>
<line x1="462.8" y1="743" x2="462.8" y2="746.5" stroke="#444" stroke-width="1"/>
<rect x="0" y="759.6" width="600" height="1.4" fill="#ebebeb"/><rect x="599" y="0" width="1" height="761" fill="#ebebeb"/>
</svg>
<div class="ax" style="top:-6.8px">25831.5</div>
<div class="ax" style="top:27.1px">25701.5</div>
<div class="ax" style="top:61.0px">25570.0</div>
<div class="ax" style="top:94.9px">25439.0</div>
<div class="ax" style="top:128.8px">25309.0</div>
<div class="ax" style="top:162.7px">25176.5</div>
<div class="ax" style="top:196.6px">25046.5</div>
<div class="ax" style="top:230.5px">24915.0</div>
<div class="ax" style="top:264.4px">24784.0</div>
<div class="ax" style="top:298.3px">24654.0</div>
<div class="ax" style="top:332.2px">24521.5</div>
<div class="ax" style="top:366.1px">24391.5</div>
<div class="ax" style="top:400.0px">24261.5</div>
<div class="ax" style="top:433.9px">24129.0</div>
<div class="ax" style="top:467.8px">23999.0</div>
<div class="ax" style="top:501.7px">23869.0</div>
<svg width="600" height="761" viewBox="0 0 600 761" style="position:absolute;left:0;top:0"><rect x="557" y="63.9" width="38" height="9.5" fill="#1f8f8f"/><rect x="557" y="88.9" width="38" height="9.5" fill="#1f8f8f"/><rect x="557" y="113.4" width="38" height="9.5" fill="#1f8f8f"/><rect x="557" y="145.6" width="38" height="9.5" fill="#000"/><rect x="557" y="178.3" width="38" height="9.5" fill="#ff1010"/><rect x="557" y="203.4" width="38" height="9.5" fill="#ff1010"/><rect x="557" y="228.2" width="38" height="9.5" fill="#ff1010"/></svg>
<div class="bx" style="top:63.5px">25557.9</div>
<div class="bx" style="top:88.5px">25463.1</div>
<div class="bx" style="top:113.0px">25368.4</div>
<div class="bx" style="top:145.2px">25243.0</div>
<div class="bx" style="top:177.9px">25117.9</div>
<div class="bx" style="top:203.0px">25020.9</div>
<div class="bx" style="top:227.8px">24926.1</div>
<div class="ax2" style="top:522.7px">103.88</div>
<div class="ax2" style="top:547.5px">0.00</div>
<div class="ax2" style="top:582.0px">-136.87</div>
<div class="ax2" style="top:595.5px">100</div>
<div class="ax2" style="top:614.6px">70</div>
<div class="ax2" style="top:646.5px">30</div>
<div class="ax2" style="top:666.0px">0</div>
<div class="ax2" style="top:679.0px">100</div>
<div class="ax2" style="top:686.8px">80</div>
<div class="ax2" style="top:725.5px">20</div>
<div class="ax2" style="top:733.6px">0</div>
<div class="lb" style="top:523.9px">MACD(12,26,9) 85.95 43.39</div>
<div class="lb" style="top:597.0px">RSI(14) 60.2130</div>
<div class="lb" style="top:680.2px">Stoch(5,3,3) 63.3639 75.7298</div>
<div class="dt" style="left:-3.3px">26 Jan 2026</div>
<div class="dt" style="left:63.1px">29 Jan 01:16</div>
<div class="dt" style="left:129.5px">2 Feb 09:16</div>
<div class="dt" style="left:195.9px">4 Feb 17:16</div>
<div class="dt" style="left:262.3px">9 Feb 05:16</div>
<div class="dt" style="left:328.6px">11 Feb 13:16</div>
<div class="dt" style="left:395.0px">16 Feb 01:16</div>
<div class="dt" style="left:461.4px">18 Feb 09:16</div>
</body></html>
